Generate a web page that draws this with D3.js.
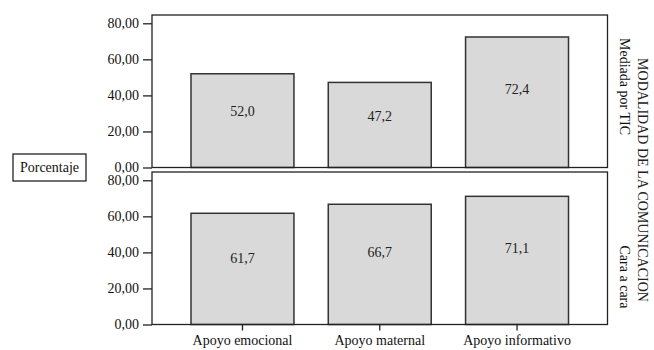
<!DOCTYPE html>
<html><head><meta charset="utf-8">
<script src="https://cdn.jsdelivr.net/npm/d3@7"></script>
<style>body{margin:0;background:#fff} svg{display:block}</style>
</head><body><svg id="c" width="654" height="350"></svg>
<script>
const categories = ["Apoyo emocional", "Apoyo maternal", "Apoyo informativo"];
const panelNames = ["Mediada por TIC", "Cara a cara"];
const valuesTIC = [52.0, 47.2, 72.4];
const valuesCara = [61.7, 66.7, 71.1];
const yTicks = [0, 20, 40, 60, 80];
const facetTitle = "MODALIDAD DE LA COMUNICACION";
const yTitle = "Porcentaje";

const FONT = "'Liberation Serif', 'Times New Roman', Times, 'DejaVu Serif', serif";
const svg = d3.select("#c");
const left = 152, right = 607.5;
const panelGeo = [{top: 15, bottom: 167.5}, {top: 172, bottom: 324.5}];
const series = [valuesTIC, valuesCara];
const labelPosY = [86.5, 277];
const fmtTick = d => d3.format(".2f")(d).replace(".", ",");
const fmtVal = d => d3.format(".1f")(d).replace(".", ",");

const x = d3.scaleBand().domain(categories).range([left, right])
  .paddingInner(0.25).paddingOuter(0.284);

panelGeo.forEach((g, pi) => {
  const y = d3.scaleLinear().domain([0, 84.6]).range([g.bottom, g.top]);
  const gp = svg.append("g");
  gp.selectAll("rect.bar").data(series[pi]).join("rect")
    .attr("class", "bar")
    .attr("x", (d, i) => x(categories[i]))
    .attr("width", x.bandwidth())
    .attr("y", d => y(d))
    .attr("height", d => y(0) - y(d))
    .attr("fill", "#d9d9d9").attr("stroke", "#333").attr("stroke-width", 1.5);
  gp.selectAll("text.val").data(series[pi]).join("text")
    .attr("class", "val")
    .attr("x", (d, i) => x(categories[i]) + x.bandwidth() / 2)
    .attr("y", d => y(d * 0.6))
    .attr("dy", "0.35em")
    .attr("text-anchor", "middle")
    .attr("font-family", FONT)
    .attr("font-size", 14).attr("fill", "#222")
    .text(fmtVal);
  gp.append("rect").attr("x", left).attr("y", g.top)
    .attr("width", right - left).attr("height", g.bottom - g.top)
    .attr("fill", "none").attr("stroke", "#222").attr("stroke-width", 1.3);
  const ax = gp.append("g").attr("transform", `translate(${left},0)`)
    .call(d3.axisLeft(y).tickValues(yTicks).tickSize(9).tickPadding(4).tickFormat(fmtTick));
  ax.attr("font-family", FONT).attr("font-size", 14);
  ax.select(".domain").remove();
  ax.selectAll("line").attr("stroke", "#222").attr("stroke-width", 1.3);
  ax.selectAll("text").attr("fill", "#111");
  gp.append("text")
    .attr("transform", `translate(620,${labelPosY[pi]}) rotate(90)`)
    .attr("text-anchor", "middle").attr("font-family", FONT)
    .attr("font-size", 14).attr("fill", "#111")
    .text(panelNames[pi]);
});

const xa = svg.append("g").attr("transform", `translate(0,${panelGeo[1].bottom})`)
  .call(d3.axisBottom(x).tickSize(6).tickPadding(4.5));
xa.attr("font-family", FONT).attr("font-size", 14);
xa.select(".domain").remove();
xa.selectAll("line").attr("stroke", "#222").attr("stroke-width", 1.3);
xa.selectAll("text").attr("fill", "#111");

svg.append("text")
  .attr("transform", "translate(638,180) rotate(90)")
  .attr("text-anchor", "middle").attr("font-family", FONT)
  .attr("font-size", 14).attr("fill", "#222")
  .text(facetTitle);

svg.append("rect").attr("x", 13).attr("y", 154).attr("width", 73).attr("height", 27)
  .attr("fill", "#fff").attr("stroke", "#111").attr("stroke-width", 1.2);
svg.append("text").attr("x", 49.5).attr("y", 172).attr("text-anchor", "middle")
  .attr("font-family", FONT)
  .attr("font-size", 14).attr("fill", "#111").text(yTitle);
</script></body></html>
